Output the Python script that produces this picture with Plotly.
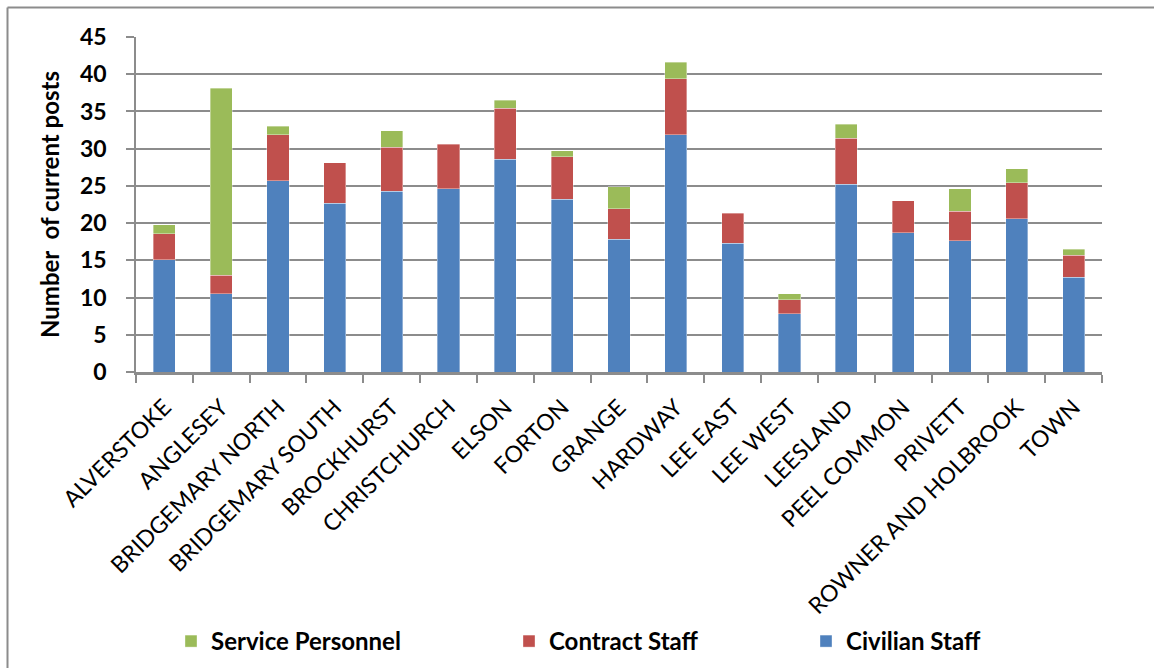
import plotly.graph_objects as go

# Ward names along the category axis
wards = [
    "ALVERSTOKE", "ANGLESEY", "BRIDGEMARY NORTH", "BRIDGEMARY SOUTH",
    "BROCKHURST", "CHRISTCHURCH", "ELSON", "FORTON", "GRANGE", "HARDWAY",
    "LEE EAST", "LEE WEST", "LEESLAND", "PEEL COMMON", "PRIVETT",
    "ROWNER AND HOLBROOK", "TOWN",
]

# Current posts per ward, by staff type (stacked bottom to top)
civilian_staff = [15.1, 10.5, 25.7, 22.7, 24.3, 24.6, 28.6, 23.2, 17.8, 31.9,
                  17.3, 7.8, 25.2, 18.7, 17.6, 20.6, 12.7]
contract_staff = [3.5, 2.5, 6.2, 5.4, 5.9, 6.0, 6.8, 5.7, 4.1, 7.5,
                  4.0, 1.9, 6.2, 4.3, 4.0, 4.8, 3.0]
service_personnel = [1.2, 25.1, 1.1, None, 2.2, None, 1.1, 0.85, 3.0, 2.2,
                     None, 0.8, 1.9, None, 3.0, 1.9, 0.8]

y_ticks = [0, 5, 10, 15, 20, 25, 30, 35, 40, 45]

FONT = "Lato"
GRID = "#8c8c8c"

# Figure geometry (pixels)
FIG_W, FIG_H = 1154, 668
M_L, M_R, M_T, M_B = 136, 52, 37, 296
PW = FIG_W - M_L - M_R
PH = FIG_H - M_T - M_B


def px_x(px):
    return (px - M_L) / PW


def px_y(py):
    return (FIG_H - M_B - py) / PH


edge = dict(width=0.8, color="rgba(255,255,255,0.45)")

fig = go.Figure()
fig.add_trace(go.Bar(x=wards, y=civilian_staff, name="Civilian Staff",
                     marker=dict(color="#4F81BD", line=edge), legend="legend3"))
fig.add_trace(go.Bar(x=wards, y=contract_staff, name="Contract Staff",
                     marker=dict(color="#C0504D", line=edge), legend="legend2"))
fig.add_trace(go.Bar(x=wards, y=service_personnel, name="Service Personnel",
                     marker=dict(color="#9BBB59", line=edge), legend="legend"))

legend_font = dict(family=FONT, size=24, color="black", weight="bold")
legend_y = px_y(641.5)


def legend_at(px):
    return dict(orientation="h", x=px_x(px), xanchor="left", y=legend_y,
                yanchor="middle", font=legend_font, bgcolor="rgba(0,0,0,0)",
                borderwidth=0)


fig.update_layout(
    width=FIG_W, height=FIG_H,
    margin=dict(l=M_L, r=M_R, t=M_T, b=M_B, autoexpand=False),
    paper_bgcolor="white", plot_bgcolor="white",
    barmode="stack", bargap=0.61,
    showlegend=True,
    legend=legend_at(171),
    legend2=legend_at(509),
    legend3=legend_at(806),
    font=dict(family=FONT, color="black"),
    xaxis=dict(
        type="category", tickangle=-45, automargin=False,
        tickfont=dict(family=FONT, size=23, color="black"),
        showline=True, linecolor=GRID, linewidth=2.5,
        ticks="outside", tickson="boundaries", ticklen=8,
        tickcolor=GRID, tickwidth=1.5, showgrid=False,
        ticklabelstandoff=10,
    ),
    yaxis=dict(
        range=[0, 45], tickvals=y_ticks, automargin=False,
        tickfont=dict(family=FONT, size=23, color="black", weight="bold"),
        showline=True, linecolor=GRID, linewidth=1.5,
        ticks="outside", ticklen=8, tickcolor=GRID, tickwidth=1.5,
        ticklabelstandoff=15,
        showgrid=True, gridcolor=GRID, gridwidth=1.6, zeroline=False,
        title=dict(text="Number\u00a0 of current posts",
                   font=dict(family=FONT, size=24, color="black", weight="bold"),
                   standoff=14),
    ),
    shapes=[
        # outer chart frame (left and top edges)
        dict(type="line", xref="paper", yref="paper",
             x0=px_x(7.5), x1=px_x(7.5), y0=px_y(FIG_H), y1=px_y(7.5),
             line=dict(color=GRID, width=2)),
        dict(type="line", xref="paper", yref="paper",
             x0=px_x(7.5), x1=px_x(FIG_W), y0=px_y(7.5), y1=px_y(7.5),
             line=dict(color=GRID, width=2)),
    ],
)

fig.write_html("out.html")
